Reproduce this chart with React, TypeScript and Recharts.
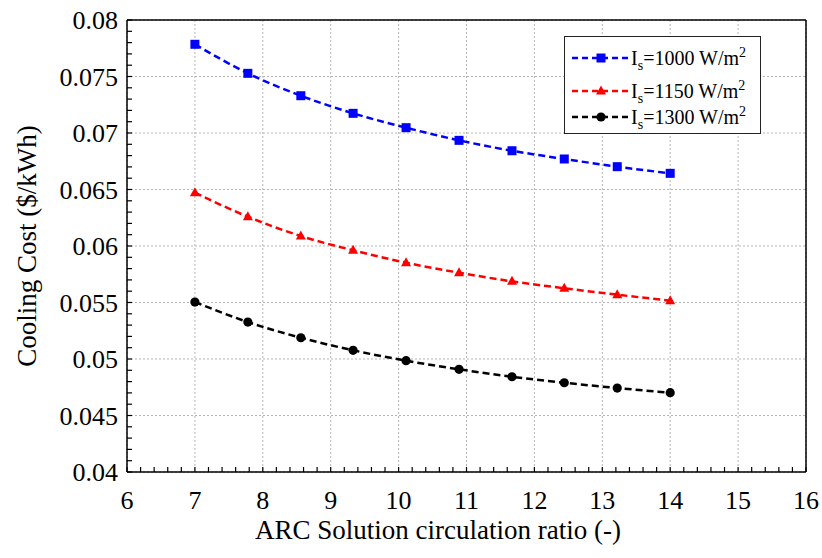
import React from 'react';
import { LineChart, Line, XAxis, YAxis, CartesianGrid, Legend, Label } from 'recharts';

const ratios = [7, 7.78, 8.56, 9.33, 10.11, 10.89, 11.67, 12.44, 13.22, 14];
const cost1000 = [0.07785, 0.07528, 0.0733, 0.07174, 0.07047, 0.06935, 0.06843, 0.0677, 0.06702, 0.06643];
const cost1150 = [0.06472, 0.06259, 0.06088, 0.05962, 0.05852, 0.05764, 0.05687, 0.05626, 0.05569, 0.05516];
const cost1300 = [0.05504, 0.05327, 0.05188, 0.05077, 0.04985, 0.04909, 0.04843, 0.0479, 0.04743, 0.04702];

const xMajor = [6, 7, 8, 9, 10, 11, 12, 13, 14, 15, 16];
const yMajor = [0.04, 0.045, 0.05, 0.055, 0.06, 0.065, 0.07, 0.075, 0.08];
const xAllTicks = Array.from({ length: 51 }, (_, i) => +(6 + i * 0.2).toFixed(1));
const yAllTicks = Array.from({ length: 41 }, (_, i) => +(0.04 + i * 0.001).toFixed(3));

const seriesNames = ['1000', '1150', '1300'];
const seriesKeys = ['s1000', 's1150', 's1300'];
const seriesColors = ['#0000ff', '#ff0000', '#000000'];
const seriesShapes = ['square', 'triangle', 'circle'];

const data = ratios.map((r, i) => ({ r, s1000: cost1000[i], s1150: cost1150[i], s1300: cost1300[i] }));

const FONT = "'Liberation Serif', 'Times New Roman', serif";

function Marker({ shape, cx, cy, color }: { shape: string; cx: number; cy: number; color: string }) {
  if (shape === 'square') return <rect x={cx - 4.5} y={cy - 4.5} width={9} height={9} fill={color} />;
  if (shape === 'triangle')
    return <polygon points={`${cx},${cy - 5.5} ${cx - 5},${cy + 3.5} ${cx + 5},${cy + 3.5}`} fill={color} />;
  return <circle cx={cx} cy={cy} r={4.6} fill={color} />;
}

const xTickFmt = (v: number) => (Number.isInteger(v) ? String(v) : '');
const yTickFmt = (v: number) => (Math.round(v * 1000) % 5 === 0 ? String(+v.toFixed(3)) : '');

function XTick(p: any) {
  const s = xTickFmt(p.payload.value);
  if (!s) return <g />;
  return (
    <text x={p.x} y={p.y} dy="0.71em" textAnchor="middle" fontSize={26} style={{ fontFamily: FONT }} fill="#000">
      {s}
    </text>
  );
}

function YTick(p: any) {
  const s = yTickFmt(p.payload.value);
  if (!s) return <g />;
  return (
    <text x={p.x} y={p.y} dy="0.355em" textAnchor="end" fontSize={26} style={{ fontFamily: FONT }} fill="#000">
      {s}
    </text>
  );
}

function LegendBox() {
  const rowTops = [21, 54, 80];
  return (
    <div
      style={{
        position: 'relative',
        width: 197,
        height: 98,
        boxSizing: 'border-box',
        border: '1.5px solid #222',
        background: '#fff',
        fontFamily: FONT,
        fontSize: 20,
        color: '#000',
      }}
    >
      {seriesNames.map((n, i) => (
        <div
          key={n}
          style={{ position: 'absolute', left: 6, top: rowTops[i] - 15, height: 30, display: 'flex', alignItems: 'center' }}
        >
          <svg width={58} height={30} style={{ display: 'block' }}>
            <line x1={1} y1={15} x2={57} y2={15} stroke={seriesColors[i]} strokeWidth={2.5} strokeDasharray="6 4" />
            <Marker shape={seriesShapes[i]} cx={30} cy={15} color={seriesColors[i]} />
          </svg>
          <span style={{ whiteSpace: 'nowrap', lineHeight: 1, marginLeft: 2 }}>
            I<span style={{ fontSize: '0.7em', position: 'relative', top: '0.35em' }}>s</span>={n} W/m
            <span style={{ fontSize: '0.7em', position: 'relative', top: '-0.6em' }}>2</span>
          </span>
        </div>
      ))}
    </div>
  );
}

export default function App() {
  return (
    <div style={{ position: 'absolute', left: 0, top: 0, width: 822, height: 558, background: '#fff', fontFamily: FONT }}>
      <LineChart width={822} height={558} data={data} margin={{ top: 19, right: 15, left: 0, bottom: 0 }} style={{ fontFamily: FONT }}>
        <CartesianGrid
          verticalValues={xMajor}
          horizontalValues={yMajor}
          stroke="#b5b5b5"
          strokeDasharray="2 2"
          strokeWidth={1}
        />
        <XAxis
          dataKey="r"
          type="number"
          domain={[6, 16]}
          ticks={xAllTicks}
          interval={0}
          height={86}
          tickSize={-5}
          tickMargin={24}
          axisLine={{ stroke: '#000', strokeWidth: 1.5 }}
          tickLine={{ stroke: '#000', strokeWidth: 1.2 }}
          tick={<XTick />}
        >
          <Label
            content={(p: any) => {
              const vb = p.viewBox;
              return (
                <text x={438} y={vb.y + 67} textAnchor="middle" fontSize={27} style={{ fontFamily: FONT }} fill="#000">
                  ARC Solution circulation ratio (-)
                </text>
              );
            }}
          />
        </XAxis>
        <XAxis
          xAxisId="top"
          orientation="top"
          dataKey="r"
          type="number"
          domain={[6, 16]}
          ticks={xAllTicks}
          interval={0}
          height={1}
          tickSize={-5}
          tick={false}
          axisLine={{ stroke: '#000', strokeWidth: 1.5 }}
          tickLine={{ stroke: '#000', strokeWidth: 1.2 }}
        />
        <YAxis
          type="number"
          domain={[0.04, 0.08]}
          ticks={yAllTicks}
          interval={0}
          width={127}
          tickSize={-5}
          tickMargin={14}
          axisLine={{ stroke: '#000', strokeWidth: 1.5 }}
          tickLine={{ stroke: '#000', strokeWidth: 1.2 }}
          tick={<YTick />}
        >
          <Label
            content={(p: any) => {
              const vb = p.viewBox;
              const cy = vb.y + vb.height / 2;
              return (
                <text
                  x={36}
                  y={cy}
                  transform={`rotate(-90 36 ${cy})`}
                  textAnchor="middle"
                  fontSize={27}
                  style={{ fontFamily: FONT }}
                  fill="#000"
                >
                  Cooling Cost ($/kWh)
                </text>
              );
            }}
          />
        </YAxis>
        <YAxis
          yAxisId="right"
          orientation="right"
          type="number"
          domain={[0.04, 0.08]}
          ticks={yAllTicks}
          interval={0}
          width={1}
          tickSize={-5}
          tick={false}
          axisLine={{ stroke: '#000', strokeWidth: 1.5 }}
          tickLine={{ stroke: '#000', strokeWidth: 1.2 }}
        />
        <Legend
          layout="vertical"
          align="center"
          verticalAlign="middle"
          wrapperStyle={{ left: 564, top: 36, width: 197, height: 98 }}
          content={() => <LegendBox />}
        />
        {seriesKeys.map((k, i) => (
          <Line
            key={k}
            dataKey={k}
            type="monotone"
            stroke={seriesColors[i]}
            strokeWidth={2.5}
            strokeDasharray="7 4"
            isAnimationActive={false}
            dot={(p: any) => (
              <Marker key={`${k}-${p.index}`} shape={seriesShapes[i]} cx={p.cx} cy={p.cy} color={seriesColors[i]} />
            )}
            activeDot={false}
          />
        ))}
      </LineChart>
    </div>
  );
}
